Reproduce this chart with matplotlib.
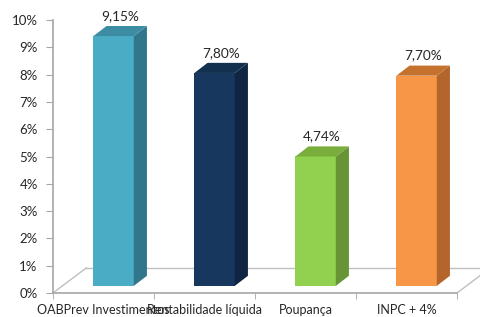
import numpy as np
import matplotlib
matplotlib.use('Agg')
import matplotlib.pyplot as plt
from matplotlib.patches import Polygon

categories = ['OABPrev Investimentos', 'Rentabilidade líquida', 'Poupança', 'INPC + 4%']
values = [9.15, 7.80, 4.74, 7.70]
front_colors = ['#4BACC6', '#17375E', '#92D050', '#F79646']
side_colors = ['#31768A', '#0F2542', '#679536', '#B4652B']
top_colors = ['#3C8DA3', '#14304F', '#79AD3C', '#C6722F']
yticks = np.arange(0, 11, 1)

plt.rcParams['font.family'] = ['Lato', 'DejaVu Sans']

fig = plt.figure(figsize=(4.81, 3.17), dpi=100)
ax = fig.add_axes([53/481, 24/317, 404/481, 273/317])

x = np.arange(len(categories))
w = 0.40      # bar width (category units)
ox, oy = 0.10, 0.26   # front face shift due to depth
dx, dy = 0.13, 0.37   # bar depth projection
fdx, fdy = 0.33, 0.92 # floor depth projection

# floor
floor_c = '#BFBFBF'
ax.plot([-0.5, -0.5 + fdx], [0, fdy], color=floor_c, lw=1, clip_on=False, zorder=1)
ax.plot([-0.5 + fdx, 3.5 + fdx], [fdy, fdy], color=floor_c, lw=1, clip_on=False, zorder=1)
ax.plot([3.5, 3.5 + fdx], [0, fdy], color=floor_c, lw=1, clip_on=False, zorder=1)

# bars: front face
ax.bar(x + ox, values, width=w, bottom=oy, color=front_colors, zorder=3)
for i, v in enumerate(values):
    x0 = x[i] + ox - w/2
    x1 = x[i] + ox + w/2
    top = v + oy
    side = Polygon([[x1, oy], [x1 + dx, oy + dy], [x1 + dx, top + dy], [x1, top]],
                   closed=True, color=side_colors[i], zorder=3, lw=0)
    cap = Polygon([[x0, top], [x1, top], [x1 + dx, top + dy], [x0 + dx, top + dy]],
                  closed=True, color=top_colors[i], zorder=3, lw=0)
    ax.add_patch(side)
    ax.add_patch(cap)
    ax.text(x[i] + ox + dx/2, top + dy + 0.15, f'{v:.2f}%'.replace('.', ','),
            ha='center', va='bottom', fontsize=9.8, color='#262626', clip_on=False)

ax.set_xlim(-0.5, 3.5)
ax.set_ylim(0, 10)
ax.set_yticks(yticks)
ax.set_yticklabels([f'{t}%' for t in yticks])
ax.set_xticks(x)
ax.set_xticklabels(categories)
ax.set_xticks(np.arange(-0.5, 4, 1), minor=True)
ax.tick_params(axis='x', which='major', length=0, pad=8, labelsize=9.0, labelcolor='#262626')
ax.tick_params(axis='x', which='minor', length=4, color='#A6A6A6')
ax.tick_params(axis='y', length=5, color='#A6A6A6', pad=6, labelsize=9.5, labelcolor='#262626')

for s in ['top', 'right']:
    ax.spines[s].set_visible(False)
for s in ['left', 'bottom']:
    ax.spines[s].set_color('#A6A6A6')
ax.spines['left'].set_linewidth(1.2)
ax.spines['bottom'].set_linewidth(1.2)

fig.savefig('out.png', dpi=100)
